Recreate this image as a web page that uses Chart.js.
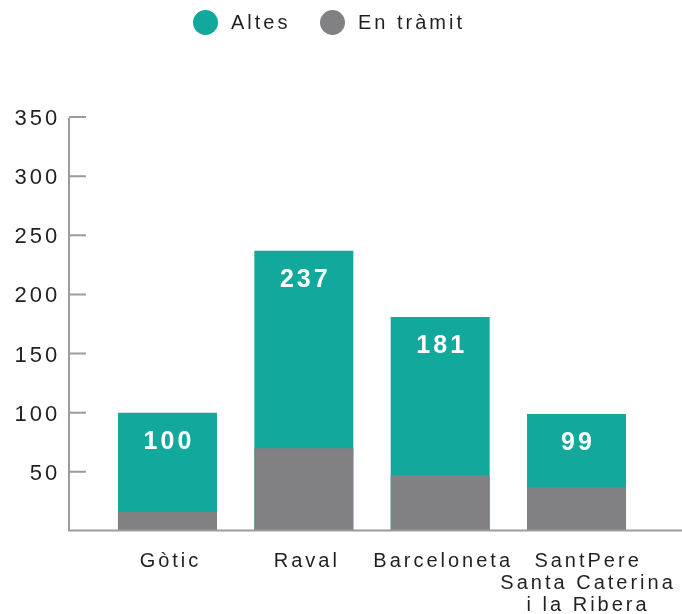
<!DOCTYPE html>
<html>
<head>
<meta charset="utf-8">
<script src="https://cdn.jsdelivr.net/npm/chart.js@4.4.1/dist/chart.umd.min.js"></script>
<style>
  html, body { margin: 0; padding: 0; background: #fff; }
  #wrap { position: relative; width: 682px; height: 614px; }
  #legend {
    position: absolute; top: 10px; left: 193px;
    display: flex; align-items: center;
    font: 20px 'Liberation Sans', Arial, sans-serif;
    letter-spacing: 3px; color: #231f20;
  }
  .item { display: flex; align-items: center; margin-right: 29.5px; }
  .dot { width: 25px; height: 25px; border-radius: 50%; margin-right: 13px; }
</style>
</head>
<body>
<div id="wrap">
  <canvas id="chart" width="682" height="614"></canvas>
  <div id="legend"></div>
</div>
<script>
// ===== DATA =====
const districts = ['Gòtic', 'Raval', 'Barceloneta', ['SantPere', 'Santa Caterina', 'i la Ribera']];
const altes = [100, 237, 181, 99];
const enTramit = [16, 70, 47, 37];
const yTicks = [50, 100, 150, 200, 250, 300, 350];

const TEAL = '#13a89c';
const GREY = '#818184';
const TEXT = '#231f20';
const FONT = "'Liberation Sans', Arial, sans-serif";
const AXIS_X = 69;

// canvas letter spacing (reset whenever the canvas is resized)
const spacing = {
  id: 'spacing',
  beforeUpdate(chart) { chart.ctx.letterSpacing = '3px'; },
  beforeDraw(chart) { chart.ctx.letterSpacing = '3px'; }
};

// axis lines + tick marks drawn to the left of the bars
const axes = {
  id: 'axes',
  afterDatasetsDraw(chart) {
    const { ctx, scales: { y } } = chart;
    const y0 = y.getPixelForValue(0) - 0.5;
    ctx.save();
    ctx.strokeStyle = '#9c9c9e';
    ctx.lineWidth = 2;
    ctx.beginPath();
    ctx.moveTo(AXIS_X, y.getPixelForValue(yTicks[yTicks.length - 1]) + 1);
    ctx.lineTo(AXIS_X, y0);
    yTicks.forEach(v => {
      const py = y.getPixelForValue(v);
      ctx.moveTo(AXIS_X, py);
      ctx.lineTo(AXIS_X + 17, py);
    });
    ctx.moveTo(AXIS_X - 1, y0);
    ctx.lineTo(chart.width, y0);
    ctx.stroke();
    ctx.restore();
  }
};

// totals written inside the teal bars
const barLabels = {
  id: 'barLabels',
  afterDatasetsDraw(chart) {
    const { ctx } = chart;
    const meta = chart.getDatasetMeta(0);
    ctx.save();
    ctx.fillStyle = '#fff';
    ctx.font = `bold 25px ${FONT}`;
    ctx.textAlign = 'center';
    ctx.textBaseline = 'middle';
    meta.data.forEach((bar, i) => {
      ctx.fillText(String(altes[i]), bar.x + 1.5, bar.y + 29);
    });
    ctx.restore();
  }
};

const chart = new Chart(document.getElementById('chart'), {
  type: 'bar',
  data: {
    labels: districts,
    datasets: [
      { label: 'Altes', data: altes, backgroundColor: TEAL, order: 1 },
      { label: 'En tràmit', data: enTramit, backgroundColor: GREY, order: 0 }
    ]
  },
  options: {
    responsive: false,
    animation: false,
    layout: { padding: { top: 117, left: 14, right: 37.3, bottom: 0 } },
    datasets: { bar: { categoryPercentage: 1, barPercentage: 0.726 } },
    plugins: {
      legend: { display: false },
      tooltip: { enabled: false }
    },
    scales: {
      x: {
        stacked: true,
        afterFit(scale) {
          scale.height = 83;
          scale.paddingLeft = 0;
          scale.paddingRight = 0;
        },
        grid: { display: false, drawTicks: false },
        border: { display: false },
        ticks: {
          autoSkip: false, maxRotation: 0, minRotation: 0,
          padding: 19,
          labelOffset: 3,
          color: TEXT,
          font: { family: FONT, size: 20, lineHeight: 1.1 },
          // last (three line) label sits a little to the right of its bar
          callback(value, index) {
            const lbl = this.getLabelForValue(value);
            return Array.isArray(lbl) ? lbl.map(s => '  ' + s) : lbl;
          }
        }
      },
      y: {
        stacked: false,
        min: 0, max: 350,
        afterFit(scale) { scale.width = 85.3; },
        grid: { display: false, drawTicks: false },
        border: { display: false },
        ticks: {
          stepSize: 50,
          padding: 39,
          labelOffset: 2,
          color: TEXT,
          font: { family: FONT, size: 22 },
          callback: v => (v === 0 ? '' : v)
        }
      }
    }
  },
  plugins: [spacing, axes, barLabels]
});

// html legend built from the datasets
const legendEl = document.getElementById('legend');
chart.data.datasets.forEach(ds => {
  const item = document.createElement('div');
  item.className = 'item';
  const dot = document.createElement('span');
  dot.className = 'dot';
  dot.style.background = ds.backgroundColor;
  const txt = document.createElement('span');
  txt.textContent = ds.label;
  item.append(dot, txt);
  legendEl.appendChild(item);
});
</script>
</body>
</html>
